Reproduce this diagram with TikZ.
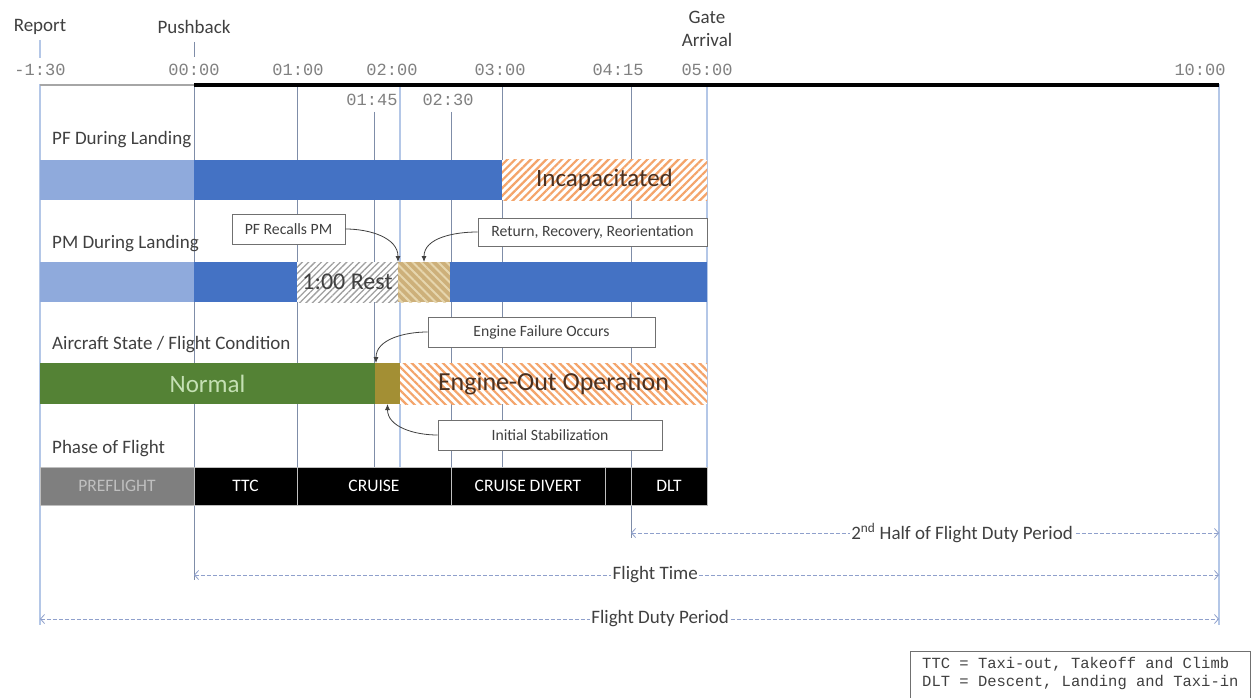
\documentclass[tikz,border=0pt]{standalone}
\usepackage{fontspec}
\setmainfont{Carlito}
\newfontfamily\tmono{Liberation Mono}
\usetikzlibrary{arrows.meta,patterns.meta}
\definecolor{guideL}{HTML}{B4C7E7}
\definecolor{guideD}{HTML}{7F8DA8}
\definecolor{lblue}{HTML}{8FAADC}
\definecolor{dblue}{HTML}{4472C4}
\definecolor{hatchor}{HTML}{F4A46A}
\definecolor{txtdark}{HTML}{404040}
\definecolor{txtbrown}{HTML}{4A3020}
\definecolor{restgray}{HTML}{A0A0A0}
\definecolor{tanbg}{HTML}{CDB07A}
\definecolor{tanst}{HTML}{E6D6AE}
\definecolor{greenA}{HTML}{548235}
\definecolor{greentxt}{HTML}{C5E0B4}
\definecolor{oliveA}{HTML}{A38F34}
\definecolor{phgray}{HTML}{7F7F7F}
\definecolor{phsep}{HTML}{BFBFBF}
\definecolor{dimc}{HTML}{8FA0CC}
\definecolor{tgray}{HTML}{808080}
\definecolor{calloutc}{HTML}{707070}
\begin{document}
\begin{tikzpicture}[x=1pt,y=1pt,
  every node/.style={text=txtdark},
  lbl/.style={font=\fontsize{19}{23}\selectfont, inner sep=0pt},
  tlbl/.style={font=\tmono\fontsize{17}{19}\selectfont, text=tgray, inner sep=0pt, anchor=base},
  seg/.style={anchor=north west, inner sep=0pt, outer sep=0pt, minimum height=40pt, font=\fontsize{25}{29}\selectfont},
  phseg/.style={anchor=north west, inner sep=0pt, outer sep=0pt, minimum height=38pt, fill=black, draw=phsep, line width=0.8pt, text=white, font=\fontsize{17.5}{19}\selectfont},
  hatchO/.style={preaction={fill=white}, pattern={Lines[angle=45,distance=5.5pt,line width=2.2pt]}, pattern color=hatchor},
  hatchOb/.style={preaction={fill=white}, pattern={Lines[angle=-45,distance=5.5pt,line width=2.2pt]}, pattern color=hatchor},
  resthatch/.style={preaction={fill=white}, pattern={Lines[angle=45,distance=4.5pt,line width=1.3pt]}, pattern color=restgray},
  tanhatch/.style={preaction={fill=tanbg}, pattern={Lines[angle=-45,distance=6pt,line width=2pt]}, pattern color=tanst},
  callout/.style={draw=calloutc, fill=white, line width=0.9pt, font=\fontsize{15.7}{18}\selectfont, inner sep=0pt},
  callarr/.style={-{Latex[length=6pt,width=5pt]}, line width=0.8pt, draw=black!75},
  gL/.style={draw=guideL, line width=1.2pt},
  gD/.style={draw=guideD, line width=0.7pt},
  dimline/.style={draw=dimc, line width=0.8pt, dash pattern=on 4pt off 2pt, {Straight Barb[length=4pt,width=9pt]}-{Straight Barb[length=4pt,width=9pt]}},
  dimlbl/.style={fill=white, inner xsep=1.5pt, inner ysep=0pt, font=\fontsize{19}{22}\selectfont}
]
\useasboundingbox (0,0) rectangle (1256,-698);
\fill[white] (0,0) rectangle (1256,-698);

% guide lines
\coordinate (g40a) at (40,-84);   \coordinate (g40b) at (40,-625);
\coordinate (g194a) at (194,-84); \coordinate (g194b) at (194,-580);
\coordinate (g297a) at (297,-84); \coordinate (g297b) at (297,-505);
\coordinate (g374a) at (374,-112);\coordinate (g374b) at (374,-505);
\coordinate (g400a) at (400,-84); \coordinate (g400b) at (400,-505);
\coordinate (g451a) at (451,-112);\coordinate (g451b) at (451,-505);
\coordinate (g502a) at (502,-84); \coordinate (g502b) at (502,-505);
\coordinate (g631a) at (631,-84); \coordinate (g631b) at (631,-538);
\coordinate (g707a) at (707,-84); \coordinate (g707b) at (707,-505);
\coordinate (g1219a) at (1219,-84); \coordinate (g1219b) at (1219,-625);
\draw[gL] (g40a) -- (g40b);
\draw[gD] (g194a) -- (g194b);
\draw[gD] (g297a) -- (g297b);
\draw[gD] (g374a) -- (g374b);
\draw[gL] (g400a) -- (g400b);
\draw[gD] (g451a) -- (g451b);
\draw[gD] (g502a) -- (g502b);
\draw[gD] (g631a) -- (g631b);
\draw[gL] (g707a) -- (g707b);
\draw[gL] (g1219a) -- (g1219b);

% top labels and ticks
\node[lbl] (report) at (40,-27) {Report};
\node[lbl] (pushback) at (194,-27) {Pushback};
\node[lbl, align=center] (gate) at (707,-29) {Gate\\Arrival};
\coordinate (repT) at (40,-40);  \coordinate (repB) at (40,-58);
\coordinate (pushT) at (194,-42); \coordinate (pushB) at (194,-57);
\draw[gL] (repT) -- (repB);
\draw[gD] (pushT) -- (pushB);

% time labels
\node[tlbl] (t1) at (40,-76) {-1:30};
\node[tlbl] (t2) at (194,-76) {00:00};
\node[tlbl] (t3) at (298,-76) {01:00};
\node[tlbl] (t4) at (392,-76) {02:00};
\node[tlbl] (t5) at (500,-76) {03:00};
\node[tlbl] (t6) at (618,-76) {04:15};
\node[tlbl] (t7) at (707,-76) {05:00};
\node[tlbl] (t8) at (1200,-76) {10:00};
\node[tlbl] (t9) at (372,-106) {01:45};
\node[tlbl] (t10) at (448,-106) {02:30};

% axis
\coordinate (ax0) at (40,-85); \coordinate (ax1) at (194,-85); \coordinate (ax2) at (1219,-85);
\draw[gray!70, line width=2pt] (ax0) -- (ax1);
\draw[black, line width=3.5pt] (ax1) -- (ax2);

% row labels
\node[lbl, anchor=base west] (pfl) at (52,-145) {PF During Landing};
\node[lbl, anchor=base west] (pml) at (52,-248) {PM During Landing};
\node[lbl, anchor=base west] (acl) at (52,-349) {Aircraft State / Flight Condition};
\node[lbl, anchor=base west] (phl) at (52,-453) {Phase of Flight};

% PF row
\node[seg, fill=lblue, minimum width=154pt] (pf1) at (40,-160) {};
\node[seg, fill=dblue, minimum width=308pt] (pf2) at (194,-160) {};
\node[seg, hatchO, minimum width=205pt, text=txtbrown] (pf3) at (502,-160) {Incapacitated};

% PM row
\node[seg, fill=lblue, minimum width=154pt] (pm1) at (40,-262) {};
\node[seg, fill=dblue, minimum width=103pt] (pm2) at (194,-262) {};
\node[seg, resthatch, minimum width=101pt, font=\fontsize{24}{28}\selectfont] (pm3) at (297,-262) {1:00 Rest};
\node[seg, tanhatch, minimum width=52pt] (pm4) at (398,-262) {};
\node[seg, fill=dblue, minimum width=257pt] (pm5) at (450,-262) {};

% Aircraft row
\node[seg, fill=greenA, minimum width=335pt, minimum height=41pt, text=greentxt] (ac1) at (40,-363) {Normal};
\node[seg, fill=oliveA, minimum width=25pt, minimum height=41pt] (ac2) at (375,-363) {};
\node[seg, hatchOb, minimum width=307pt, minimum height=41pt, text=txtbrown, font=\fontsize{26}{30}\selectfont] (ac3) at (400,-363) {Engine-Out Operation};

% Phase row
\node[phseg, fill=phgray, text=phsep, minimum width=154pt] (ph1) at (40,-467) {PREFLIGHT};
\node[phseg, minimum width=103pt] (ph2) at (194,-467) {TTC};
\node[phseg, minimum width=154pt] (ph3) at (297,-467) {CRUISE};
\node[phseg, minimum width=154pt] (ph4) at (451,-467) {CRUISE DIVERT};
\node[phseg, minimum width=26pt] (ph5) at (605,-467) {};
\node[phseg, minimum width=76pt] (ph6) at (631,-467) {DLT};

% callouts
\node[callout, minimum width=113pt, minimum height=30pt] (recall) at (288.5,-229) {PF Recalls PM};
\node[callout, minimum width=229pt, minimum height=28pt] (return) at (592.5,-232) {Return, Recovery, Reorientation};
\node[callout, minimum width=227pt, minimum height=30pt] (engfail) at (541.5,-332) {Engine Failure Occurs};
\node[callout, minimum width=224pt, minimum height=30pt] (initstab) at (550,-435) {Initial Stabilization};
\draw[callarr] (recall.east) to[out=0,in=90] (pm4.north west);
\draw[callarr] (return.west) to[out=180,in=90] (pm4.north);
\draw[callarr] (engfail.west) to[out=180,in=90] ([xshift=1pt]ac2.north west);
\draw[callarr] (initstab.west) to[out=180,in=-90] (ac2.south);

% dimension arrows
\coordinate (hA) at (631,-533); \coordinate (hB) at (1219,-533);
\coordinate (fA) at (194,-575); \coordinate (fB) at (1219,-575);
\coordinate (dA) at (40,-619);  \coordinate (dB) at (1219,-619);
\draw[dimline] (hA) -- node[dimlbl, pos=0.563] (hlbl) {2\textsuperscript{nd} Half of Flight Duty Period} (hB);
\draw[dimline] (fA) -- node[dimlbl, pos=0.45] (flbl) {Flight Time} (fB);
\draw[dimline] (dA) -- node[dimlbl, pos=0.526] (dlbl) {Flight Duty Period} (dB);

% legend
\coordinate (pagebot) at (0,-702);
\node[anchor=north west, inner xsep=12pt, inner ysep=0pt, minimum height=44pt, align=left, font=\tmono\fontsize{15.5}{18}\selectfont] (legend) at (910,-651) {TTC = Taxi-out, Takeoff and Climb\\DLT = Descent, Landing and Taxi-in};
\draw[calloutc, line width=0.9pt] (legend.west |- pagebot) -- (legend.north west) -- (legend.north east) -- (legend.east |- pagebot);
\end{tikzpicture}
\end{document}
